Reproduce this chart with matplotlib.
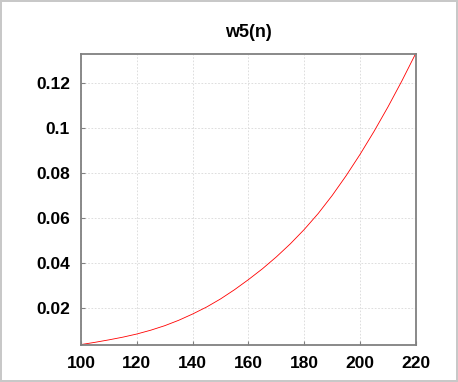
import numpy as np
from matplotlib import pyplot as plt
from matplotlib.ticker import FuncFormatter

# values, every 5 units of n
n = [100, 105, 110, 115, 120, 125, 130, 135, 140, 145, 150, 155, 160,
     165, 170, 175, 180, 185, 190, 195, 200, 205, 210, 215, 220]
w5 = [0.0037, 0.0047, 0.0058, 0.0070, 0.0084, 0.0101, 0.0121, 0.0145,
      0.0173, 0.0204, 0.0240, 0.0281, 0.0326, 0.0374, 0.0427, 0.0485,
      0.0549, 0.0620, 0.0700, 0.0788, 0.0883, 0.0985, 0.1094, 0.1210,
      0.1333]
xticks = [100, 120, 140, 160, 180, 200, 220]
yticks = [0.02, 0.04, 0.06, 0.08, 0.10, 0.12]

plt.rcParams['font.family'] = ['Liberation Sans', 'DejaVu Sans']

fig = plt.figure(figsize=(4.58, 3.82), dpi=100)
fig.patch.set_edgecolor('#c8c8c8')
fig.patch.set_linewidth(1.5)
ax = fig.add_axes([0.177, 0.098, 0.731, 0.761])

ax.plot(n, w5, color='red', linewidth=0.6)

ax.set_xlim(100, 220)
ax.set_ylim(0.0037, 0.133)
ax.set_xticks(xticks)
ax.set_yticks(yticks)
ax.yaxis.set_major_formatter(FuncFormatter(lambda v, p: '%g' % round(v, 2)))
ax.grid(True, color='#d8d8d8', linestyle=(0, (2, 2)), linewidth=0.6)
for s in ax.spines.values():
    s.set_color('#808080')
    s.set_linewidth(1.3)
ax.tick_params(direction='in', length=3, color='#808080', labelsize=12.5, pad=8)
for lab in ax.get_xticklabels() + ax.get_yticklabels():
    lab.set_fontweight('bold')
ax.set_title('w5(n)', fontsize=13, fontweight='bold', pad=12)

plt.savefig('out.png', dpi=100)
